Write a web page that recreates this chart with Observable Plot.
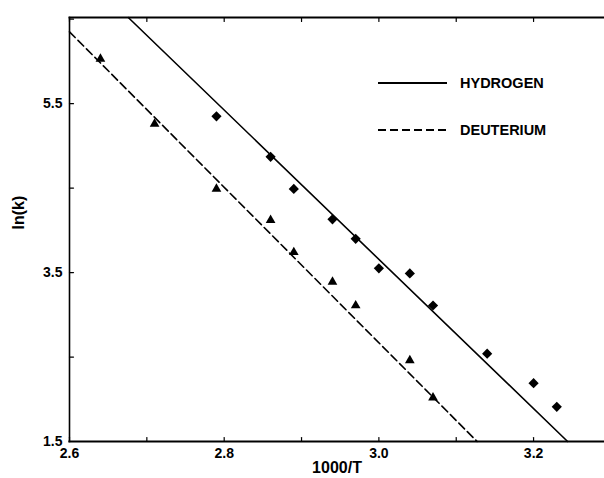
<!DOCTYPE html>
<html><head><meta charset="utf-8">
<script src="https://cdn.jsdelivr.net/npm/d3@7"></script>
<script src="https://cdn.jsdelivr.net/npm/@observablehq/plot@0.6"></script>
<style>
body{margin:0;background:#fff;}
#wrap{position:relative;width:604px;height:478px;}
#legend{position:absolute;left:0;top:0;pointer-events:none;}
</style></head><body><div id="wrap"></div>
<script>
// Data
const hydrogenX = [2.79, 2.86, 2.89, 2.94, 2.97, 3.00, 3.04, 3.07, 3.14, 3.20, 3.23];
const hydrogenY = [5.35, 4.87, 4.49, 4.13, 3.90, 3.55, 3.49, 3.11, 2.54, 2.19, 1.91];
const deuteriumX = [2.64, 2.71, 2.79, 2.86, 2.89, 2.94, 2.97, 3.04, 3.07];
const deuteriumY = [6.03, 5.26, 4.49, 4.12, 3.74, 3.39, 3.11, 2.46, 2.02];
const hydrogenFitX = [2.676, 3.244];
const hydrogenFitY = [6.52, 1.5];
const deuteriumFitX = [2.6, 3.127];
const deuteriumFitY = [6.35, 1.5];
const xTicks = [2.6, 2.7, 2.8, 2.9, 3.0, 3.1, 3.2];
const xLabels = [2.6, 2.8, 3.0, 3.2];
const yTicks = [1.5, 2.5, 3.5, 4.5, 5.5, 6.5];
const yLabels = [1.5, 3.5, 5.5];
const xTitle = "1000/T";
const yTitle = "ln(k)";
const seriesNames = ["HYDROGEN", "DEUTERIUM"];

const hydrogen = hydrogenX.map((x, i) => ({x, y: hydrogenY[i]}));
const deuterium = deuteriumX.map((x, i) => ({x, y: deuteriumY[i]}));
const hFit = hydrogenFitX.map((x, i) => ({x, y: hydrogenFitY[i]}));
const dFit = deuteriumFitX.map((x, i) => ({x, y: deuteriumFitY[i]}));

const font = "'Liberation Sans', Arial, sans-serif";
const xDomain = [2.6, 3.2917];
const yDomain = [1.5, 6.52];
const tickShape = {draw(c, l) { c.moveTo(0, 0); c.lineTo(0, -l); }};

const chart = Plot.plot({
  width: 604,
  height: 478,
  marginLeft: 69,
  marginRight: 0,
  marginTop: 17,
  marginBottom: 37,
  style: {fontFamily: font, fontWeight: "bold", fontSize: "14px", color: "#000", background: "#fff"},
  x: {domain: xDomain},
  y: {domain: yDomain},
  marks: [
    Plot.frame({anchor: "left", strokeWidth: 1.6}),
    Plot.frame({anchor: "bottom", strokeWidth: 2.2}),
    Plot.frame({anchor: "top", strokeWidth: 1.8}),
    Plot.vector(xTicks, {x: d => d, frameAnchor: "bottom", rotate: 0, length: 4, anchor: "start", shape: tickShape, stroke: "#000", strokeWidth: 1.2}),
    Plot.vector(xTicks, {x: d => d, frameAnchor: "top", rotate: 180, length: 4, anchor: "start", shape: tickShape, stroke: "#000", strokeWidth: 1.2}),
    Plot.vector(yTicks, {y: d => d, frameAnchor: "left", rotate: 90, length: 4, anchor: "start", shape: tickShape, stroke: "#000", strokeWidth: 1.2}),
    Plot.axisX({anchor: "bottom", ticks: xLabels, tickSize: 0, tickPadding: 7, tickFormat: ".1f", label: null, fontSize: 14, fontWeight: "bold"}),
    Plot.axisY({anchor: "left", ticks: yLabels, tickSize: 0, tickPadding: 7, tickFormat: ".1f", label: null, fontSize: 14, fontWeight: "bold"}),
    Plot.line(hFit, {x: "x", y: "y", stroke: "#000", strokeWidth: 1.6}),
    Plot.line(dFit, {x: "x", y: "y", stroke: "#000", strokeWidth: 1.6, strokeDasharray: "8,4"}),
    Plot.dot(hydrogen, {x: "x", y: "y", symbol: "diamond2", r: 4.6, fill: "#000", stroke: "none"}),
    Plot.dot(deuterium, {x: "x", y: "y", symbol: "triangle", r: 3.6, fill: "#000", stroke: "none"}),
    Plot.text([xTitle], {frameAnchor: "bottom", dy: 31, fontSize: 16, fontWeight: "bold", text: d => d}),
    Plot.text([yTitle], {frameAnchor: "left", dx: -51, rotate: -90, fontSize: 16, fontWeight: "bold", text: d => d})
  ]
});

const wrap = document.getElementById("wrap");
wrap.appendChild(chart);

// Legend overlay
const ns = "http://www.w3.org/2000/svg";
const leg = document.createElementNS(ns, "svg");
leg.setAttribute("id", "legend");
leg.setAttribute("width", 604);
leg.setAttribute("height", 478);
const entries = [{y: 83, dash: null}, {y: 130, dash: "8,4"}];
seriesNames.forEach((name, i) => {
  const e = entries[i];
  const l = document.createElementNS(ns, "line");
  l.setAttribute("x1", 378); l.setAttribute("x2", 447);
  l.setAttribute("y1", e.y); l.setAttribute("y2", e.y);
  l.setAttribute("stroke", "#000"); l.setAttribute("stroke-width", 2);
  if (e.dash) l.setAttribute("stroke-dasharray", e.dash);
  leg.appendChild(l);
  const t = document.createElementNS(ns, "text");
  t.setAttribute("x", 460); t.setAttribute("y", e.y + 5);
  t.setAttribute("font-family", font);
  t.setAttribute("font-weight", "bold");
  t.setAttribute("font-size", 14.5);
  t.textContent = name;
  leg.appendChild(t);
});
wrap.appendChild(leg);
</script>
</body></html>
